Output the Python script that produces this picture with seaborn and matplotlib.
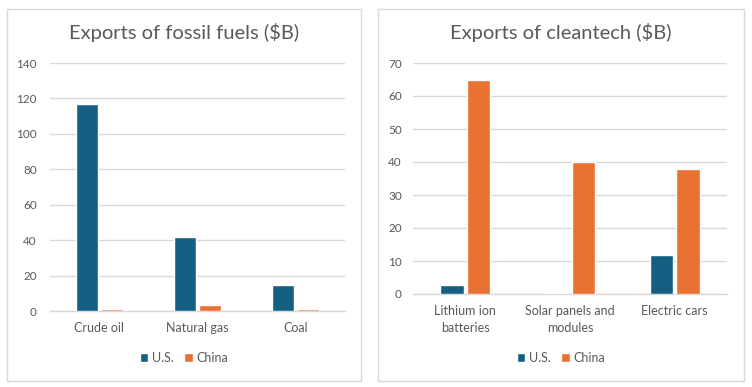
import matplotlib
matplotlib.use("Agg")
import matplotlib.pyplot as plt
import seaborn as sns
import pandas as pd
from matplotlib.patches import Rectangle

sns.set_theme(style="white")
plt.rcParams['font.family'] = ['Lato', 'DejaVu Sans']

# Data
fossil_categories = ["Crude oil", "Natural gas", "Coal"]
fossil_us = [117, 41.5, 14.5]
fossil_china = [1.0, 3.2, 1.0]

clean_categories = ["Lithium ion\nbatteries", "Solar panels and\nmodules", "Electric cars"]
clean_us = [2.7, 0.4, 11.8]
clean_china = [65, 40, 38]

series_names = ["U.S.", "China"]
colors = ["#156082", "#E97132"]
text_color = "#595959"
grid_color = "#D9D9D9"

def long_df(cats, us, china):
    rows = []
    for c, v in zip(cats, us):
        rows.append({"category": c, "country": series_names[0], "value": v})
    for c, v in zip(cats, china):
        rows.append({"category": c, "country": series_names[1], "value": v})
    return pd.DataFrame(rows)

fig = plt.figure(figsize=(7.52, 3.87), dpi=100)

# panel borders
for x0, w in ((7 / 752, 354 / 752), (378 / 752, 366 / 752)):
    fig.patches.append(Rectangle((x0, 6 / 387), w, 372 / 387,
                                 transform=fig.transFigure, fill=False,
                                 edgecolor=grid_color, linewidth=1.0))

ax1 = fig.add_axes([50 / 752, (387 - 311) / 387, 295 / 752, 248 / 387])
ax2 = fig.add_axes([413 / 752, (387 - 294) / 387, 314 / 752, 231 / 387])

panels = [
    (ax1, long_df(fossil_categories, fossil_us, fossil_china), "Exports of fossil fuels ($B)",
     (0, 140), range(0, 141, 20), 184 / 752, 9.5),
    (ax2, long_df(clean_categories, clean_us, clean_china), "Exports of cleantech ($B)",
     (0, 70), range(0, 71, 10), 561 / 752, 8),
]

for ax, df, title, ylim, yticks, cx, ypad in panels:
    sns.barplot(data=df, x="category", y="value", hue="country", palette=colors,
                width=0.51, gap=0.12, errorbar=None, ax=ax, saturation=1, zorder=3)
    ax.set_ylim(*ylim)
    ax.set_yticks(list(yticks))
    ax.set_xlabel("")
    ax.set_ylabel("")
    ax.yaxis.grid(True, color=grid_color, linewidth=1.0)
    ax.set_axisbelow(True)
    for s in ["top", "right", "left"]:
        ax.spines[s].set_visible(False)
    ax.spines["bottom"].set_color(grid_color)
    ax.spines["bottom"].set_linewidth(1.0)
    ax.spines["bottom"].set_zorder(1)
    ax.tick_params(axis="both", length=0, colors=text_color)
    ax.tick_params(axis="y", labelsize=8.5, pad=ypad)
    ax.tick_params(axis="x", labelsize=9, pad=8)
    for lbl in ax.get_xticklabels():
        lbl.set_linespacing(1.5)
    handles, labels = ax.get_legend_handles_labels()
    ax.legend_.remove()
    fig.legend(handles, labels, loc="center", bbox_to_anchor=(cx, 1 - 358 / 387),
               ncol=2, frameon=False, fontsize=9, labelcolor=text_color,
               handlelength=0.7, handleheight=0.7, handletextpad=0.3, columnspacing=0.8)
    fig.text(cx, 1 - 33 / 387, title, ha="center", va="center", fontsize=14.5, color=text_color)

fig.savefig("out.png", dpi=100)
